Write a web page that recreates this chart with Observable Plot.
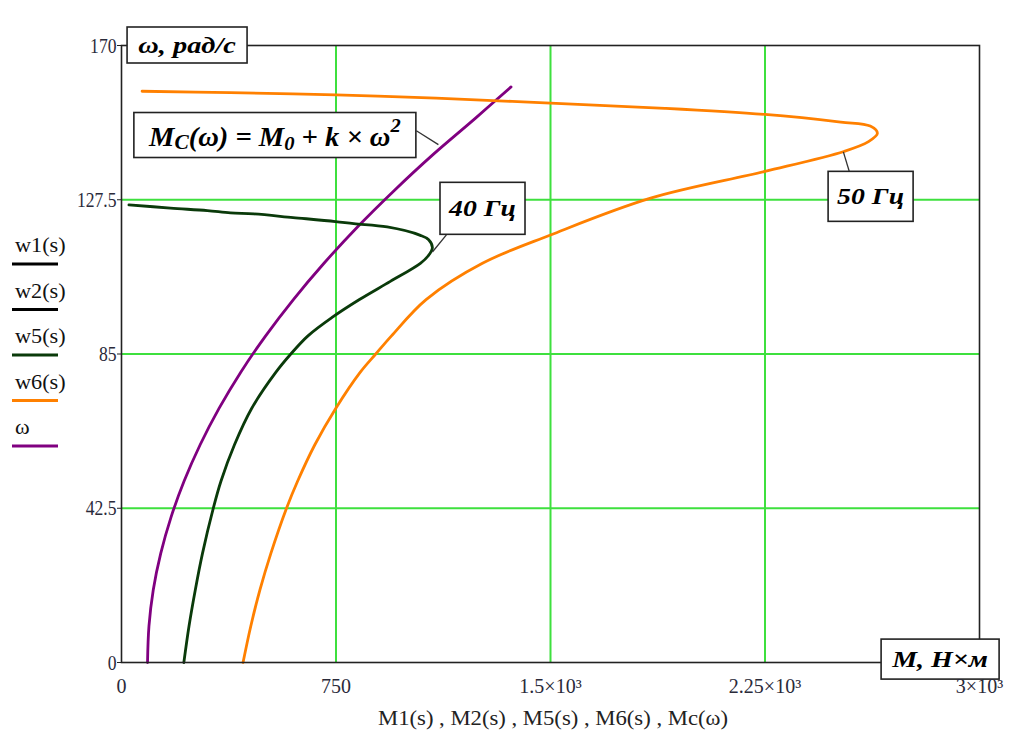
<!DOCTYPE html>
<html><head><meta charset="utf-8">
<script src="https://cdn.jsdelivr.net/npm/d3@7"></script>
<script src="https://cdn.jsdelivr.net/npm/@observablehq/plot@0.6"></script>
<style>
body{margin:0;background:#fff;}
#chart svg{display:block;}
</style>
</head><body><div id="chart"></div>
<script>
// ---- axis ticks ----
const xTicks = [0, 750, 1500, 2250, 3000];
const xTickLabels = ["0", "750", "1.5×10³", "2.25×10³", "3×10³"];
const yTicks = [0, 42.5, 85, 127.5, 170];
const yTickLabels = ["0", "42.5", "85", "127.5", "170"];
const xAxisTitle = "M1(s) , M2(s) , M5(s) , M6(s) , Mc(ω)";

// ---- legend ----
const legendNames = ["w1(s)", "w2(s)", "w5(s)", "w6(s)", "ω"];
const legendColors = ["#000000", "#000000", "#0a3a0a", "#ff8000", "#800080"];

// ---- series: 40 Hz (w5) : torque M and speed ω ----
const w5M = [218, 236, 258, 283, 321, 348, 395, 455, 540, 592, 652, 735, 832, 940, 1045, 1072, 1087, 1074, 1045, 929, 812, 748, 600, 463, 381, 300, 171, 26];
const w5W = [0, 10, 20, 30, 42.5, 50, 60, 70, 80, 85, 90, 95, 100, 105, 110, 112, 114.3, 116.5, 117.7, 120.0, 120.9, 121.5, 122.6, 123.6, 123.9, 124.5, 125.2, 126.1];

// ---- series: 50 Hz (w6) ----
const w6M = [425, 452, 484, 522, 577, 616, 676, 749, 835, 889, 944, 1065, 1262, 1500, 1853, 2250, 2526, 2612, 2643, 2618, 2515, 2250, 1900, 1500, 1100, 749, 381, 72];
const w6W = [0, 10, 20, 30, 42.5, 50, 60, 70, 80, 85, 90, 100, 110, 117.8, 128.0, 135.3, 140.8, 143.5, 145.8, 147.8, 148.9, 151.0, 152.7, 154.1, 155.5, 156.4, 157.0, 157.4];

// ---- series: load torque Mc(ω) ----
const mcM = [91, 96, 111, 137, 173, 219, 275, 341, 417, 504, 601, 708, 825, 953, 1090, 1238, 1362];
const mcW = [0, 10, 20, 30, 40, 50, 60, 70, 80, 90, 100, 110, 120, 130, 140, 150, 158.6];

// ---- annotations (data coordinates) ----
const annoKeys = ["omegaUnit", "mUnit", "mc", "f40", "f50"];
const annoM = [231, 2864, 538, 1264, 2621];
const annoW = [170, 0.8, 145.2, 125.0, 128.3];
const leaderM1 = [1031, 1136, 2545];
const leaderW1 = [146.5, 117.8, 135.2];
const leaderM2 = [1108, 1087, 2524];
const leaderW2 = [142.7, 113.1, 140.7];

const toRows = (ms, ws) => ms.map((m, i) => ({M: m, W: ws[i]}));
const w5 = toRows(w5M, w5W);
const w6 = toRows(w6M, w6W);
const mc = toRows(mcM, mcW);
const leaders = leaderM1.map((m, i) => ({x1: m, y1: leaderW1[i], x2: leaderM2[i], y2: leaderW2[i]}));

const serif = "'Liberation Serif', 'Times New Roman', serif";
const gridColor = "#3ee03e";

const plot = Plot.plot({
  width: 1019,
  height: 746,
  marginLeft: 121,
  marginRight: 40,
  marginTop: 45,
  marginBottom: 84,
  style: {fontFamily: serif, fontSize: "20px", background: "#fff"},
  x: {domain: [0, 3000]},
  y: {domain: [0, 170]},
  marks: [
    Plot.ruleX(xTicks.slice(1, -1), {stroke: gridColor, strokeWidth: 2}),
    Plot.ruleY(yTicks.slice(1, -1), {stroke: gridColor, strokeWidth: 2}),
    Plot.line(mc, {x: "M", y: "W", stroke: legendColors[4], strokeWidth: 2.8, curve: "catmull-rom"}),
    Plot.line(w5, {x: "M", y: "W", stroke: legendColors[2], strokeWidth: 2.8, curve: "catmull-rom"}),
    Plot.line(w6, {x: "M", y: "W", stroke: legendColors[3], strokeWidth: 2.8, curve: "catmull-rom"}),
    Plot.frame({stroke: "#222", strokeWidth: 1.6}),
    Plot.link(leaders, {x1: "x1", y1: "y1", x2: "x2", y2: "y2", stroke: "#333", strokeWidth: 1.3}),
    Plot.axisY({ticks: yTicks, tickFormat: (d) => yTickLabels[yTicks.indexOf(d)], tickSize: 4, tickPadding: 1,
      fill: "#2a2a3a", stroke: "#222", label: null}),
    Plot.axisX({ticks: xTicks, tickFormat: (d) => xTickLabels[xTicks.indexOf(d)], tickSize: 0, tickPadding: 16,
      fill: "#2a2a3a", label: null})
  ]
});

document.getElementById("chart").appendChild(plot);

const svg = d3.select(plot);
const sx = plot.scale("x"), sy = plot.scale("y");

// tick labels: larger serif text; y labels tall and narrow like the original
const xLabelGroup = svg.select("g[aria-label='x-axis tick label']");
xLabelGroup.selectAll("text").style("font-size", "20px").style("font-family", serif);
svg.selectAll("g[aria-label='y-axis tick label'] text").each(function () {
  const el = d3.select(this).style("font-size", "22px").style("font-family", serif);
  const w = this.getComputedTextLength();
  el.attr("textLength", w * 0.8).attr("lengthAdjust", "spacingAndGlyphs");
});

// axis title
svg.append("text")
  .attr("x", sx.apply(1500) + 3).attr("y", 725)
  .attr("text-anchor", "middle")
  .attr("font-family", serif).attr("font-size", 21).attr("fill", "#222")
  .attr("textLength", 350).attr("lengthAdjust", "spacingAndGlyphs")
  .text(xAxisTitle);

// legend
const legend = svg.append("g").attr("text-anchor", "start");
legendNames.forEach((name, i) => {
  const base = 252 + i * 45.5;
  legend.append("text")
    .attr("x", 0).attr("y", 0)
    .attr("text-anchor", "start")
    .attr("font-family", serif).attr("font-size", 21).attr("fill", "#111")
    .attr("transform", `translate(15,${base}) scale(1.06,1)`)
    .text(name);
  legend.append("line")
    .attr("x1", 12).attr("x2", 58).attr("y1", base + 12).attr("y2", base + 12)
    .attr("stroke", legendColors[i]).attr("stroke-width", 3);
});

// annotation boxes
const boxSpec = {
  omegaUnit: {w: 120, h: 36, fs: 24, tw: 98},
  mUnit: {w: 118, h: 40, fs: 24, tw: 97},
  mc: {w: 282, h: 45, fs: 27, tw: 253},
  f40: {w: 85, h: 52, fs: 24, tw: 68},
  f50: {w: 85, h: 50, fs: 24, tw: 67}
};
const anno = svg.append("g");
annoKeys.forEach((k, i) => {
  const cx = sx.apply(annoM[i]), cy = sy.apply(annoW[i]);
  const s = boxSpec[k];
  anno.append("rect")
    .attr("x", cx - s.w / 2).attr("y", cy - s.h / 2)
    .attr("width", s.w).attr("height", s.h)
    .attr("fill", "#fff").attr("stroke", "#222").attr("stroke-width", 1.6);
  const t = anno.append("text")
    .attr("x", 0).attr("y", 0)
    .attr("text-anchor", "middle")
    .attr("dominant-baseline", "central")
    .attr("font-family", serif).attr("font-weight", "bold").attr("font-style", "italic")
    .attr("font-size", s.fs).attr("fill", "#000");
  if (k === "mc") {
    t.append("tspan").text("M");
    t.append("tspan").attr("font-size", "0.75em").attr("dy", 6).text("C");
    t.append("tspan").attr("dy", -6).text("(ω) = M");
    t.append("tspan").attr("font-size", "0.72em").attr("dy", 7).text("0");
    t.append("tspan").attr("dy", -7).text(" + k × ω");
    t.append("tspan").attr("font-size", "0.72em").attr("dy", -11).text("2");
  } else if (k === "omegaUnit") {
    t.text("ω, рад/с");
  } else if (k === "mUnit") {
    t.text("M, Н×м");
  } else if (k === "f40") {
    t.text("40 Гц");
  } else {
    t.text("50 Гц");
  }
  const bb = t.node().getBBox();
  const kx = s.tw / bb.width;
  t.attr("transform", `translate(${cx},${cy + (k === "mc" ? 1 : 0)}) scale(${kx},1)`);
});

// keep the x tick labels on top of the unit box
if (!xLabelGroup.empty()) plot.appendChild(xLabelGroup.node());
</script>
</body></html>
